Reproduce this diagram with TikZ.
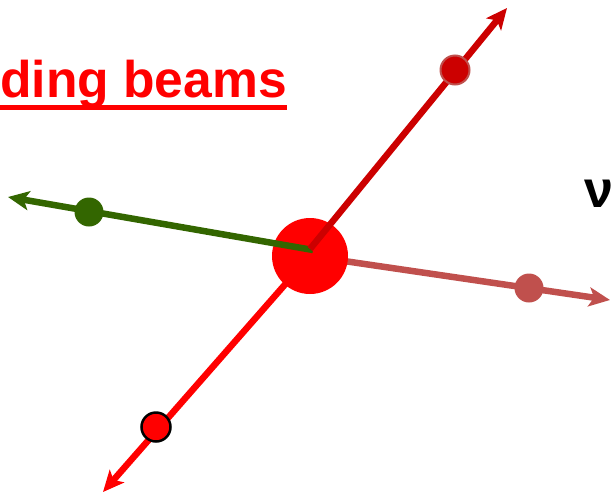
\documentclass[tikz,border=0pt]{standalone}
\usepackage{fontspec}
\setmainfont{Liberation Sans}
\usetikzlibrary{arrows.meta}
\definecolor{cgreen}{HTML}{336600}
\definecolor{cdark}{HTML}{CC0000}
\definecolor{cpink}{HTML}{C0504D}
\definecolor{cred}{HTML}{FF0000}
\begin{document}
\begin{tikzpicture}[x=1pt,y=-1pt,
  beam/.style={line width=6.5pt, -{Stealth[length=21pt,width=19pt,inset=5pt]}},
  dot/.style={circle, inner sep=0pt, minimum size=29pt}]
\useasboundingbox (0,0) rectangle (612,493);
\clip (0,0) rectangle (612,493);
% title
\node[anchor=base west, inner sep=0pt, text=cred, font=\fontsize{51.6}{60}\selectfont\bfseries] (title) at (0,97) {ding beams};
\draw[cred, line width=5pt] (0,107.5) coordinate (ul) -- (287,107.5) coordinate (ur);
\node[anchor=base west, inner sep=0pt, font=\fontsize{52}{60}\selectfont\bfseries] (nu) at (584,207) {ν};
% endpoints
\coordinate (c) at (310,256);
\coordinate (s) at (310,249);
\coordinate (tgreen) at (8,197);
\coordinate (tdark) at (507,8);
\coordinate (tpink) at (610,300);
\coordinate (tred) at (103,492);
% behind lines
\draw[beam, cpink] (c) -- (tpink);
\draw[beam, cred] (c) -- (tred);
% core
\node[circle, inner sep=0pt, minimum size=76pt, fill=cred] (core) at (310,256) {};
% front lines
\draw[beam, cgreen] (313,250) coordinate (sg) -- (tgreen);
\draw[beam, cdark] (s) -- (tdark);
% dots
\node[dot, fill=cgreen] (dg) at (89,212) {};
\node[dot, fill=cdark, draw=cpink, line width=2pt] (dd) at (455,70) {};
\node[dot, fill=cpink] (dp) at (529,288) {};
\node[dot, fill=cred, draw=black, line width=2.5pt] (dr) at (156,427) {};
\end{tikzpicture}
\end{document}
